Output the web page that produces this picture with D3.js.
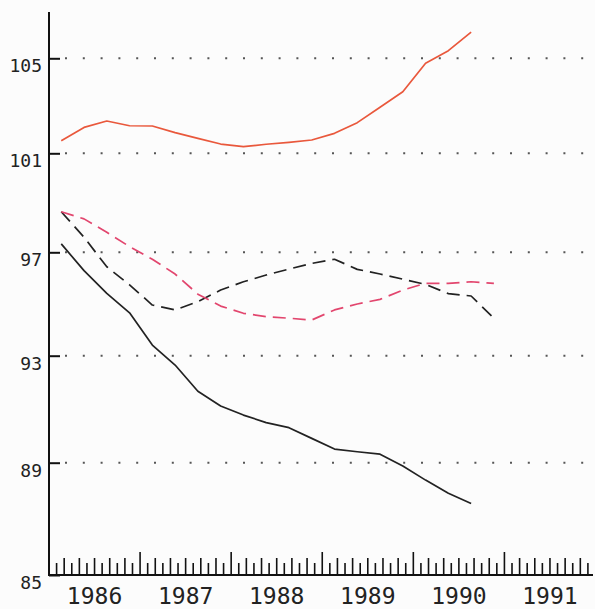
<!DOCTYPE html>
<html>
<head>
<meta charset="utf-8">
<script src="https://cdn.jsdelivr.net/npm/d3@7"></script>
<style>
  body { margin: 0; background: #fcfcfc; }
  svg { display: block; }
  .lbl text { font-family: "DejaVu Sans Mono", monospace; fill: #222; }
</style>
</head>
<body>
<div id="chart"></div>
<script>
// quarterly observations, 1986 Q1 onwards
var quarters = ["1986Q1", "1986Q2", "1986Q3", "1986Q4", "1987Q1", "1987Q2", "1987Q3", "1987Q4",
    "1988Q1", "1988Q2", "1988Q3", "1988Q4", "1989Q1", "1989Q2", "1989Q3", "1989Q4",
    "1990Q1", "1990Q2", "1990Q3", "1990Q4"];
var redSolid = [101.53, 102.09, 102.36, 102.16, 102.15, 101.87, 101.63, 101.39, 101.28, 101.38,
    101.46, 101.56, 101.84, 102.29, 102.94, 103.59, 104.79, 105.32, 106.1];
var pinkDashed = [98.64, 98.35, 97.81, 97.23, 96.73, 96.16, 95.38, 94.92, 94.64, 94.51,
    94.45, 94.38, 94.77, 95.0, 95.18, 95.54, 95.8, 95.8, 95.86, 95.8];
var blackDashed = [98.64, 97.61, 96.44, 95.74, 94.96, 94.77, 95.09, 95.54, 95.86, 96.12,
    96.35, 96.57, 96.73, 96.34, 96.16, 95.96, 95.76, 95.4, 95.31, 94.45];
var blackSolid = [97.34, 96.29, 95.41, 94.66, 93.41, 92.65, 91.67, 91.12, 90.78, 90.5,
    90.31, 89.91, 89.51, 89.41, 89.32, 88.88, 88.38, 87.91, 87.55];
var yTicks = [85, 89, 93, 97, 101, 105];
var years = [1986, 1987, 1988, 1989, 1990, 1991];

var width = 595, height = 609;

var svg = d3.select('#chart').append('svg')
    .attr('width', width)
    .attr('height', height);

var x = d3.scaleLinear().domain([1986, 1992]).range([48.5, 595]);
// the scanned original is slightly stretched towards the bottom, so use a polylinear scale
var y = d3.scaleLinear().domain(yTicks).range([575, 462.7, 355.7, 252.3, 153.3, 58.3]);

function qTime(q) {
    return +q.slice(0, 4) + (+q.slice(5) - 1) / 4 + 0.14;
}

// dotted gridlines
svg.append('g').selectAll('line')
    .data(yTicks.slice(1))
    .enter().append('line')
    .attr('x1', 65)
    .attr('x2', 592)
    .attr('y1', function (d) { return y(d); })
    .attr('y2', function (d) { return y(d); })
    .attr('stroke', '#555')
    .attr('stroke-width', 2)
    .attr('stroke-dasharray', '2,15.8');

// y axis, ticks pointing inward
var yAxis = d3.axisLeft(y).tickValues(yTicks).tickSize(-11).tickPadding(7);
var yg = svg.append('g')
    .attr('class', 'lbl')
    .attr('transform', 'translate(49,0)')
    .call(yAxis);
yg.select('.domain').remove();
yg.selectAll('.tick line').attr('stroke', '#111').attr('stroke-width', 2);
yg.selectAll('.tick text')
    .attr('font-size', 18)
    .attr('dy', '13.5');
svg.append('line')
    .attr('x1', 49).attr('x2', 49)
    .attr('y1', y(85)).attr('y2', y(106.95))
    .attr('stroke', '#111')
    .attr('stroke-width', 2);

// x axis: monthly ticks, year boundaries tallest
var months = [];
years.forEach(function (yr) {
    for (var m = 0; m < 12; m++) {
        if (yr === 1986 && m === 0) continue;
        months.push(yr + m / 12);
    }
});
var xTicks = d3.axisTop(x).tickValues(months).tickSize(12).tickFormat('');
var xg = svg.append('g')
    .attr('transform', 'translate(0,' + y(85) + ')')
    .call(xTicks);
xg.select('.domain').remove();
xg.selectAll('.tick line')
    .attr('stroke', '#111')
    .attr('stroke-width', 1.6)
    .attr('y2', function (d) {
        var m = Math.round((d - Math.floor(d + 1e-6)) * 12);
        if (m === 0) return -23;
        return m % 2 === 0 ? -17 : -12;
    });
svg.append('line')
    .attr('x1', 48).attr('x2', 593)
    .attr('y1', y(85)).attr('y2', y(85))
    .attr('stroke', '#111')
    .attr('stroke-width', 2);

var xLabels = d3.axisBottom(x)
    .tickValues(years.map(function (d) { return d + 0.5; }))
    .tickSize(0)
    .tickPadding(13)
    .tickFormat(function (d) { return Math.floor(d); });
var xl = svg.append('g')
    .attr('class', 'lbl')
    .attr('transform', 'translate(0,' + y(85) + ')')
    .call(xLabels);
xl.select('.domain').remove();
xl.selectAll('.tick text').attr('font-size', 23);

// series
var line = d3.line()
    .x(function (d, i) { return x(qTime(quarters[i])); })
    .y(function (d) { return y(d); });

var series = [
    { values: blackSolid, color: '#222', dash: null },
    { values: blackDashed, color: '#222', dash: '13,7' },
    { values: pinkDashed, color: '#e2466e', dash: '13,7' },
    { values: redSolid, color: '#e9583c', dash: null }
];

svg.append('g').selectAll('path')
    .data(series)
    .enter().append('path')
    .attr('d', function (s) { return line(s.values); })
    .attr('fill', 'none')
    .attr('stroke', function (s) { return s.color; })
    .attr('stroke-width', 1.7)
    .attr('stroke-dasharray', function (s) { return s.dash; })
    .attr('stroke-linejoin', 'round');
</script>
</body>
</html>
